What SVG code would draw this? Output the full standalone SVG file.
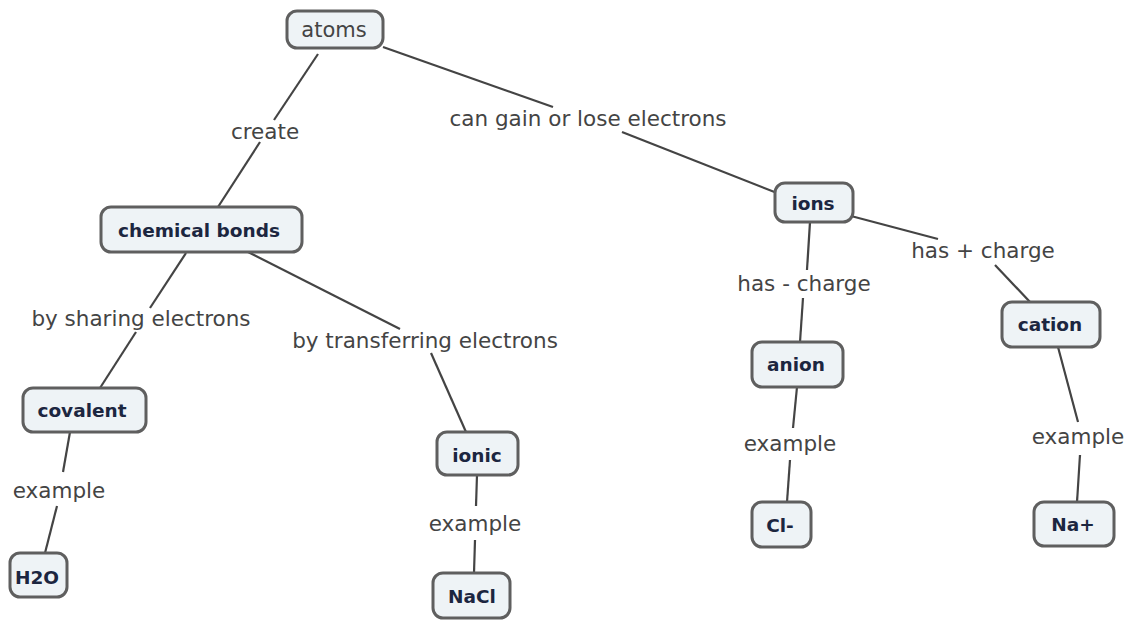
<svg xmlns="http://www.w3.org/2000/svg" width="1134" height="624" viewBox="0 0 1134 624">
  <style>
    .node rect { fill: #eef3f6; stroke: #5f5f5f; stroke-width: 3; }
    .node text { font-family: "DejaVu Sans", Verdana, sans-serif; font-size: 18.5px; font-weight: bold; fill: #1c2640; text-anchor: middle; dominant-baseline: central; }
    .node text.plain { font-weight: normal; fill: #444; font-size: 21px; }
    .label { font-family: "DejaVu Sans", Verdana, sans-serif; font-size: 21.5px; fill: #444; text-anchor: middle; dominant-baseline: central; }
    #connectors line { stroke: #444; stroke-width: 2.2; }
  </style>
  <rect width="1134" height="624" fill="#ffffff"/>

  <g id="connectors">
    <line x1="318" y1="54" x2="274" y2="120"/>
    <line x1="260" y1="142" x2="218" y2="207"/>
    <line x1="383" y1="47" x2="553" y2="107"/>
    <line x1="622" y1="132" x2="777" y2="193"/>
    <line x1="186" y1="253" x2="150" y2="308"/>
    <line x1="136" y1="332" x2="100" y2="388"/>
    <line x1="248" y1="252" x2="400" y2="329"/>
    <line x1="431" y1="353" x2="466" y2="432"/>
    <line x1="70" y1="432" x2="63" y2="472"/>
    <line x1="57" y1="506" x2="45" y2="553"/>
    <line x1="477" y1="475" x2="476" y2="506"/>
    <line x1="475" y1="540" x2="474" y2="573"/>
    <line x1="810" y1="222" x2="807" y2="270"/>
    <line x1="803" y1="298" x2="800" y2="342"/>
    <line x1="851" y1="216" x2="938" y2="239"/>
    <line x1="995" y1="265" x2="1030" y2="302"/>
    <line x1="797" y1="387" x2="793" y2="428"/>
    <line x1="790" y1="460" x2="787" y2="502"/>
    <line x1="1058" y1="347" x2="1078" y2="422"/>
    <line x1="1080" y1="455" x2="1077" y2="502"/>
  </g>

  <g id="labels">
    <text class="label" x="265" y="131">create</text>
    <text class="label" x="588" y="118">can gain or lose electrons</text>
    <text class="label" x="141" y="318">by sharing electrons</text>
    <text class="label" x="425" y="340">by transferring electrons</text>
    <text class="label" x="804" y="283">has - charge</text>
    <text class="label" x="983" y="250">has + charge</text>
    <text class="label" x="59" y="490">example</text>
    <text class="label" x="475" y="523">example</text>
    <text class="label" x="790" y="443">example</text>
    <text class="label" x="1078" y="436">example</text>
  </g>

  <g id="atoms" class="node">
    <rect x="287" y="11" width="96" height="37" rx="10"/>
    <text class="plain" x="334" y="30">atoms</text>
  </g>
  <g id="chemical-bonds" class="node">
    <rect x="101" y="207" width="201" height="45" rx="10"/>
    <text x="199" y="230">chemical bonds</text>
  </g>
  <g id="covalent" class="node">
    <rect x="23" y="388" width="123" height="44" rx="10"/>
    <text x="82" y="410">covalent</text>
  </g>
  <g id="h2o" class="node">
    <rect x="10" y="553" width="57" height="44" rx="10"/>
    <text x="37" y="577">H2O</text>
  </g>
  <g id="ionic" class="node">
    <rect x="437" y="432" width="81" height="43" rx="10"/>
    <text x="477" y="455">ionic</text>
  </g>
  <g id="nacl" class="node">
    <rect x="433" y="573" width="77" height="45" rx="10"/>
    <text x="472" y="596">NaCl</text>
  </g>
  <g id="ions" class="node">
    <rect x="775" y="183" width="78" height="39" rx="10"/>
    <text x="813" y="203">ions</text>
  </g>
  <g id="anion" class="node">
    <rect x="752" y="342" width="91" height="45" rx="10"/>
    <text x="796" y="364">anion</text>
  </g>
  <g id="cl" class="node">
    <rect x="752" y="502" width="59" height="45" rx="10"/>
    <text x="780" y="525">Cl-</text>
  </g>
  <g id="cation" class="node">
    <rect x="1002" y="302" width="98" height="45" rx="10"/>
    <text x="1050" y="324">cation</text>
  </g>
  <g id="na" class="node">
    <rect x="1034" y="502" width="80" height="44" rx="10"/>
    <text x="1073" y="524">Na+</text>
  </g>
</svg>
